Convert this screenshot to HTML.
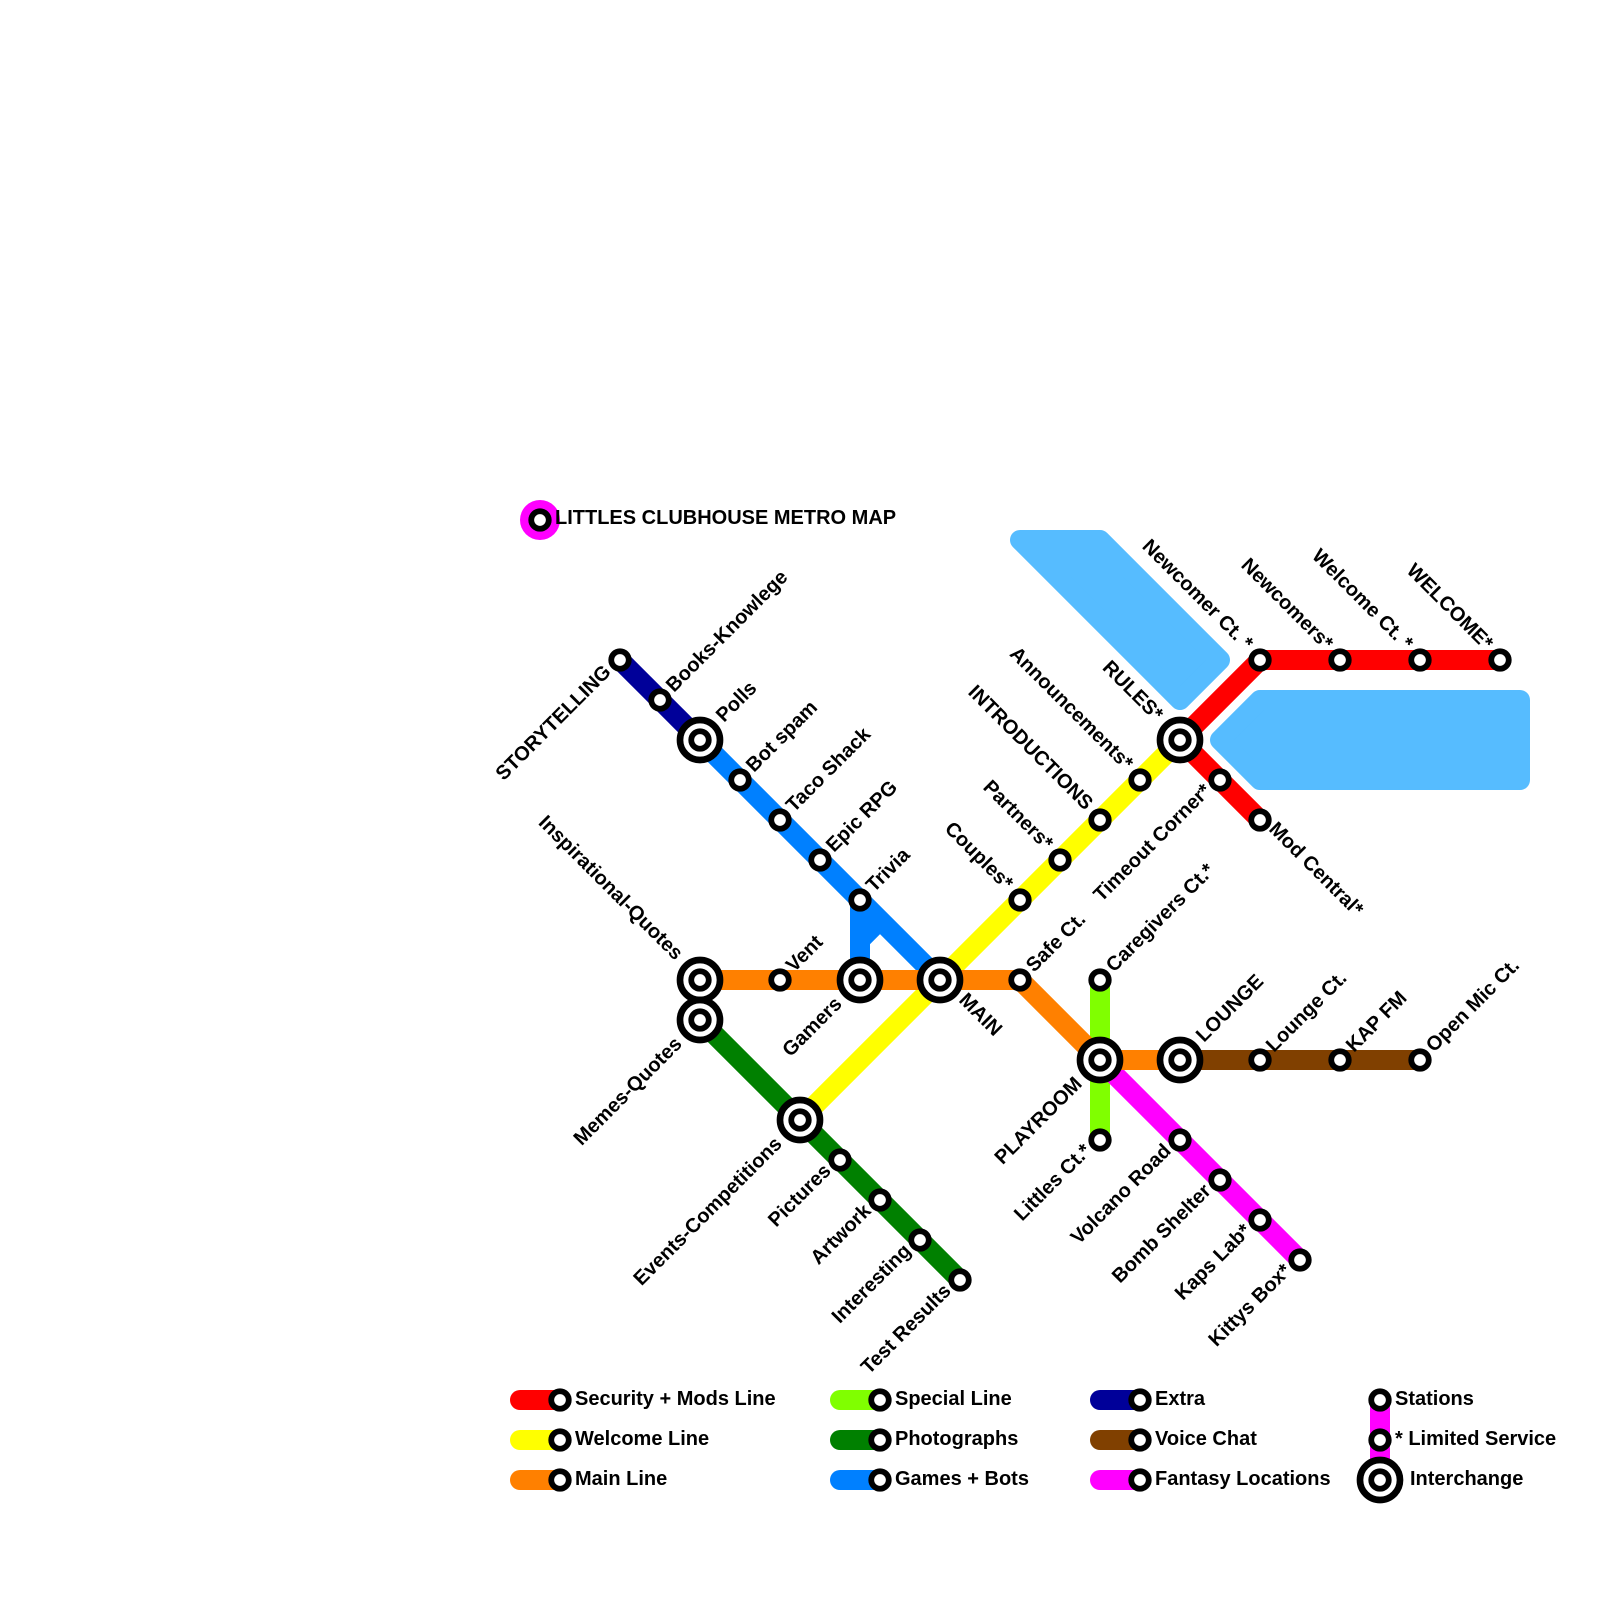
<!DOCTYPE html>
<html><head><meta charset="utf-8"><title>Littles Clubhouse Metro Map</title>
<style>
html,body{margin:0;padding:0;background:#fff}
svg{display:block}
text{font-family:"Liberation Sans",Arial,sans-serif;font-weight:bold;font-size:20px;fill:#000}
.l{fill:none;stroke-width:20;stroke-linecap:round;stroke-linejoin:round}
.s{fill:#fff;stroke:#000;stroke-width:5.8}
.i{fill:#fff;stroke:#000;stroke-width:6.67}
.e{text-anchor:end}
</style></head><body>
<svg width="1600" height="1600" viewBox="0 0 1600 1600" xmlns="http://www.w3.org/2000/svg">
<defs>
<g id="st"><circle class="s" r="8.75"/></g>
<g id="ic"><circle class="i" r="20"/><circle class="s" r="8.75"/></g>
</defs>
<!-- water -->
<path d="M1020,540H1100L1220,660L1180,700Z" fill="#56bcff" stroke="#56bcff" stroke-width="20" stroke-linejoin="round"/>
<path d="M1220,740L1260,700H1520V780H1260Z" fill="#56bcff" stroke="#56bcff" stroke-width="20" stroke-linejoin="round"/>
<!-- title -->
<circle cx="540" cy="520" r="20" fill="#f0f"/>
<use href="#st" x="540" y="520"/>
<text x="555" y="524">LITTLES CLUBHOUSE METRO MAP</text>
<!-- lines -->
<path class="l" stroke="#000099" d="M620,660L700,740"/>
<path class="l" stroke="#0080ff" d="M700,740L940,980M860,900V980M860,940L880,920"/>
<path class="l" stroke="#008000" d="M700,1020L960,1280"/>
<path class="l" stroke="#ffff00" d="M800,1120L1180,740"/>
<path class="l" stroke="#ff0000" d="M1500,660H1260L1180,740L1260,820"/>
<path class="l" stroke="#80ff00" d="M1100,980V1140"/>
<path class="l" stroke="#ff00ff" d="M1100,1060L1300,1260"/>
<path class="l" stroke="#804000" d="M1180,1060H1420"/>
<path class="l" stroke="#ff8000" d="M700,980H1020L1100,1060H1180"/>
<!-- stations -->
<use href="#st" x="620" y="660"/><use href="#st" x="660" y="700"/><use href="#ic" x="700" y="740"/>
<use href="#st" x="740" y="780"/><use href="#st" x="780" y="820"/><use href="#st" x="820" y="860"/><use href="#st" x="860" y="900"/>
<use href="#ic" x="700" y="980"/><use href="#ic" x="700" y="1020"/><use href="#st" x="780" y="980"/><use href="#ic" x="860" y="980"/><use href="#ic" x="940" y="980"/><use href="#st" x="1020" y="980"/>
<use href="#ic" x="800" y="1120"/><use href="#st" x="840" y="1160"/><use href="#st" x="880" y="1200"/><use href="#st" x="920" y="1240"/><use href="#st" x="960" y="1280"/>
<use href="#st" x="1020" y="900"/><use href="#st" x="1060" y="860"/><use href="#st" x="1100" y="820"/><use href="#st" x="1140" y="780"/><use href="#ic" x="1180" y="740"/>
<use href="#st" x="1260" y="660"/><use href="#st" x="1340" y="660"/><use href="#st" x="1420" y="660"/><use href="#st" x="1500" y="660"/>
<use href="#st" x="1220" y="780"/><use href="#st" x="1260" y="820"/>
<use href="#st" x="1100" y="980"/><use href="#ic" x="1100" y="1060"/><use href="#st" x="1100" y="1140"/>
<use href="#ic" x="1180" y="1060"/><use href="#st" x="1260" y="1060"/><use href="#st" x="1340" y="1060"/><use href="#st" x="1420" y="1060"/>
<use href="#st" x="1180" y="1140"/><use href="#st" x="1220" y="1180"/><use href="#st" x="1260" y="1220"/><use href="#st" x="1300" y="1260"/>
<!-- up-right labels -->
<text transform="translate(674,693) rotate(-45)">Books-Knowlege</text>
<text transform="translate(724,723) rotate(-45)">Polls</text>
<text transform="translate(754,773) rotate(-45)">Bot spam</text>
<text transform="translate(794,813) rotate(-45)">Taco Shack</text>
<text transform="translate(834,853) rotate(-45)">Epic RPG</text>
<text transform="translate(874,893) rotate(-45)">Trivia</text>
<text transform="translate(794,973) rotate(-45)">Vent</text>
<text transform="translate(1034,973) rotate(-45)">Safe Ct.</text>
<text transform="translate(1114,973) rotate(-45)">Caregivers Ct.*</text>
<text transform="translate(1204,1043) rotate(-45)">LOUNGE</text>
<text transform="translate(1274,1053) rotate(-45)">Lounge Ct.</text>
<text transform="translate(1354,1053) rotate(-45)">KAP FM</text>
<text transform="translate(1434,1053) rotate(-45)">Open Mic Ct.</text>
<!-- down-left labels -->
<text class="e" transform="translate(612,673) rotate(-45)">STORYTELLING</text>
<text class="e" transform="translate(843,1005) rotate(-45)">Gamers</text>
<text class="e" transform="translate(683,1045) rotate(-45)">Memes-Quotes</text>
<text class="e" transform="translate(783,1145) rotate(-45)">Events-Competitions</text>
<text class="e" transform="translate(832,1172) rotate(-45)">Pictures</text>
<text class="e" transform="translate(872,1212) rotate(-45)">Artwork</text>
<text class="e" transform="translate(912,1252) rotate(-45)">Interesting</text>
<text class="e" transform="translate(952,1292) rotate(-45)">Test Results</text>
<text class="e" transform="translate(1083,1085) rotate(-45)">PLAYROOM</text>
<text class="e" transform="translate(1092,1152) rotate(-45)">Littles Ct.*</text>
<text class="e" transform="translate(1172,1152) rotate(-45)">Volcano Road</text>
<text class="e" transform="translate(1212,1192) rotate(-45)">Bomb Shelter</text>
<text class="e" transform="translate(1252,1232) rotate(-45)">Kaps Lab*</text>
<text class="e" transform="translate(1292,1272) rotate(-45)">Kittys Box*</text>
<text class="e" transform="translate(1212,792) rotate(-45)">Timeout Corner*</text>
<!-- up-left labels -->
<text class="e" transform="translate(1245,651) rotate(45)">Newcomer Ct. *</text>
<text class="e" transform="translate(1325,651) rotate(45)">Newcomers*</text>
<text class="e" transform="translate(1405,651) rotate(45)">Welcome Ct. *</text>
<text class="e" transform="translate(1485,651) rotate(45)">WELCOME*</text>
<text class="e" transform="translate(1155,722) rotate(45)">RULES*</text>
<text class="e" transform="translate(1125,771) rotate(45)">Announcements*</text>
<text class="e" transform="translate(1085,811) rotate(45)">INTRODUCTIONS</text>
<text class="e" transform="translate(1045,851) rotate(45)">Partners*</text>
<text class="e" transform="translate(1005,891) rotate(45)">Couples*</text>
<text class="e" transform="translate(675,961) rotate(45)">Inspirational-Quotes</text>
<!-- down-right labels -->
<text transform="translate(1268,830) rotate(45)">Mod Central*</text>
<text transform="translate(958,1001) rotate(45)">MAIN</text>
<!-- legend -->
<path class="l" stroke="#ff0000" d="M520,1400H560"/><use href="#st" x="560" y="1400"/><text x="575" y="1405">Security + Mods Line</text>
<path class="l" stroke="#ffff00" d="M520,1440H560"/><use href="#st" x="560" y="1440"/><text x="575" y="1445">Welcome Line</text>
<path class="l" stroke="#ff8000" d="M520,1480H560"/><use href="#st" x="560" y="1480"/><text x="575" y="1485">Main Line</text>
<path class="l" stroke="#80ff00" d="M840,1400H880"/><use href="#st" x="880" y="1400"/><text x="895" y="1405">Special Line</text>
<path class="l" stroke="#008000" d="M840,1440H880"/><use href="#st" x="880" y="1440"/><text x="895" y="1445">Photographs</text>
<path class="l" stroke="#0080ff" d="M840,1480H880"/><use href="#st" x="880" y="1480"/><text x="895" y="1485">Games + Bots</text>
<path class="l" stroke="#000099" d="M1100,1400H1140"/><use href="#st" x="1140" y="1400"/><text x="1155" y="1405">Extra</text>
<path class="l" stroke="#804000" d="M1100,1440H1140"/><use href="#st" x="1140" y="1440"/><text x="1155" y="1445">Voice Chat</text>
<path class="l" stroke="#ff00ff" d="M1100,1480H1140"/><use href="#st" x="1140" y="1480"/><text x="1155" y="1485">Fantasy Locations</text>
<path d="M1380,1400V1480" stroke="#f0f" stroke-width="20" fill="none"/>
<use href="#st" x="1380" y="1400"/><use href="#st" x="1380" y="1440"/><use href="#ic" x="1380" y="1480"/>
<text x="1395" y="1405">Stations</text>
<text x="1395" y="1445">* Limited Service</text>
<text x="1410" y="1485">Interchange</text>
</svg>
</body></html>
